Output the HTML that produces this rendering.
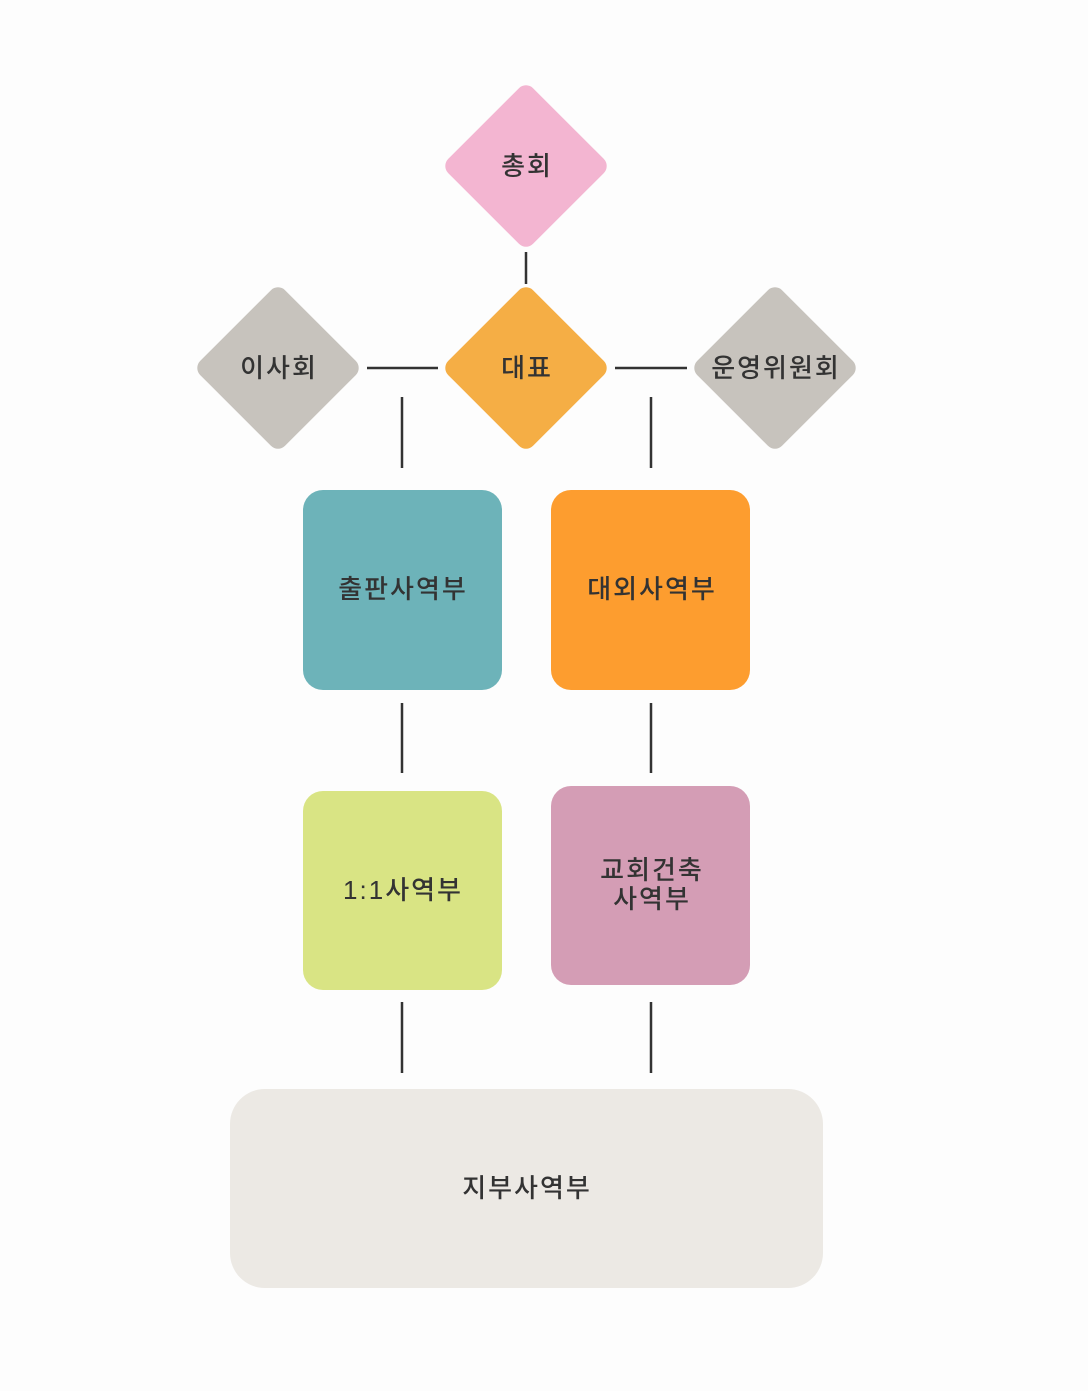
<!DOCTYPE html>
<html><head><meta charset="utf-8"><style>
html,body{margin:0;padding:0;background:#fdfdfd;}
svg{display:block}
text{font-family:"Liberation Sans","Noto Sans CJK KR",sans-serif;font-size:26px;font-weight:500;fill:#333;text-anchor:middle;dominant-baseline:central;letter-spacing:2px;}
</style></head><body>
<svg width="1088" height="1391" viewBox="0 0 1088 1391">
<rect width="1088" height="1391" fill="#fdfdfd"/>
<g stroke="#333" stroke-width="2.5">
<line x1="526" y1="252" x2="526" y2="284"/>
<line x1="367" y1="368" x2="438" y2="368"/>
<line x1="615" y1="368" x2="687" y2="368"/>
<line x1="402" y1="397" x2="402" y2="468"/>
<line x1="651" y1="397" x2="651" y2="468"/>
<line x1="402" y1="703" x2="402" y2="773"/>
<line x1="651" y1="703" x2="651" y2="773"/>
<line x1="402" y1="1002" x2="402" y2="1073"/>
<line x1="651" y1="1002" x2="651" y2="1073"/>
</g>
<rect x="-60" y="-60" width="120" height="120" rx="10" fill="#f3b5d1" transform="translate(526,166) rotate(45)"/>
<rect x="-60" y="-60" width="120" height="120" rx="10" fill="#f5ae45" transform="translate(526,368) rotate(45)"/>
<rect x="-60" y="-60" width="120" height="120" rx="10" fill="#c7c3bd" transform="translate(278,368) rotate(45)"/>
<rect x="-60" y="-60" width="120" height="120" rx="10" fill="#c7c3bd" transform="translate(775,368) rotate(45)"/>
<text x="527" y="166">총회</text>
<text x="527" y="368">대표</text>
<text x="279" y="368">이사회</text>
<text x="776" y="368">운영위원회</text>
<rect x="303" y="490" width="199" height="200" rx="20" fill="#6db3b9"/>
<rect x="551" y="490" width="199" height="200" rx="20" fill="#fd9d2f"/>
<rect x="303" y="791" width="199" height="199" rx="20" fill="#d9e484"/>
<rect x="551" y="786" width="199" height="199" rx="20" fill="#d49db5"/>
<rect x="230" y="1089" width="593" height="199" rx="35" fill="#ece9e4"/>
<text x="403" y="589">출판사역부</text>
<text x="652" y="589">대외사역부</text>
<text x="403" y="890">1:1사역부</text>
<text x="652" y="870">교회건축</text>
<text x="652" y="899">사역부</text>
<text x="527" y="1188">지부사역부</text>
</svg>
</body></html>
